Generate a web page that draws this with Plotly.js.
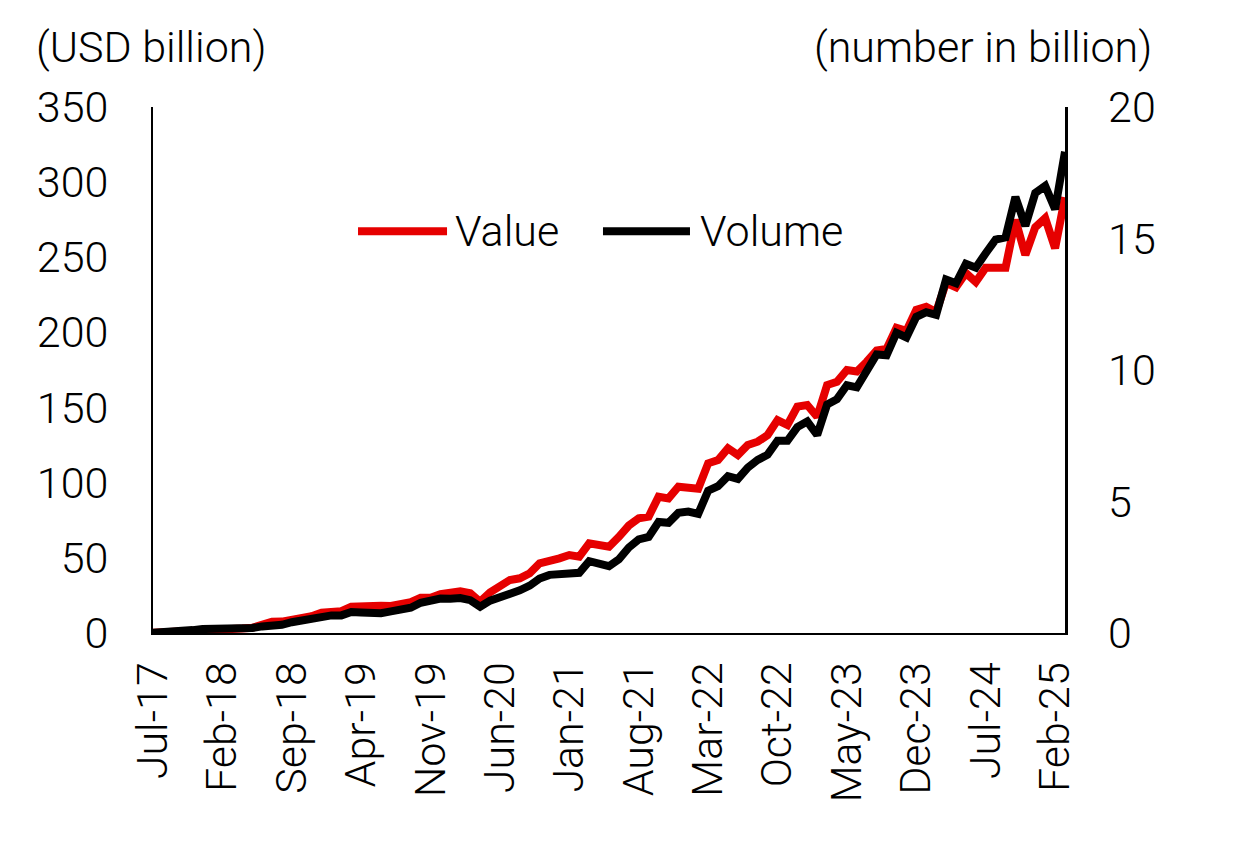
<!DOCTYPE html>
<html>
<head>
<meta charset="utf-8">
<script src="https://cdn.plot.ly/plotly-3.0.1.min.js"></script>
<style>
  html, body { margin: 0; padding: 0; background: #ffffff; }
  #chart { width: 1234px; height: 843px; }
</style>
</head>
<body>
<div id="chart"></div>
<script>
// Months (categories)
const months = [
  "Jul-17","Aug-17","Sep-17","Oct-17","Nov-17","Dec-17",
  "Jan-18","Feb-18","Mar-18","Apr-18","May-18","Jun-18","Jul-18","Aug-18","Sep-18","Oct-18","Nov-18","Dec-18",
  "Jan-19","Feb-19","Mar-19","Apr-19","May-19","Jun-19","Jul-19","Aug-19","Sep-19","Oct-19","Nov-19","Dec-19",
  "Jan-20","Feb-20","Mar-20","Apr-20","May-20","Jun-20","Jul-20","Aug-20","Sep-20","Oct-20","Nov-20","Dec-20",
  "Jan-21","Feb-21","Mar-21","Apr-21","May-21","Jun-21","Jul-21","Aug-21","Sep-21","Oct-21","Nov-21","Dec-21",
  "Jan-22","Feb-22","Mar-22","Apr-22","May-22","Jun-22","Jul-22","Aug-22","Sep-22","Oct-22","Nov-22","Dec-22",
  "Jan-23","Feb-23","Mar-23","Apr-23","May-23","Jun-23","Jul-23","Aug-23","Sep-23","Oct-23","Nov-23","Dec-23",
  "Jan-24","Feb-24","Mar-24","Apr-24","May-24","Jun-24","Jul-24","Aug-24","Sep-24","Oct-24","Nov-24","Dec-24",
  "Jan-25","Feb-25","Mar-25"
];

// Value (USD billion), left axis
const valueUSD = [
  0.1, 0.3, 0.5, 0.8, 1.1, 1.5,
  1.8, 2.2, 2.7, 3.0, 3.5, 5.5, 7.5, 7.6, 8.5, 10.3, 11.2, 13.5,
  14.5, 14.5, 17.5, 18.0, 18.8, 18.2, 18.0, 19.2, 20.5, 23.4, 23.5, 25.8,
  27.0, 27.8, 26.4, 20.8, 27.0, 30.8, 35.3, 36.4, 39.7, 46.4, 47.4, 49.7,
  51.9, 50.8, 59.7, 58.5, 57.4, 64.0, 71.5, 76.3, 77.4, 90.7, 89.6, 97.3,
  97.3, 96.0, 112.9, 115.1, 122.9, 118.4, 125.1, 127.3, 131.7, 141.7, 138.4, 150.6,
  151.7, 143.9, 165.0, 167.2, 175.0, 174.0, 180.5, 188.0, 189.0, 203.0, 201.0, 215.0,
  217.0, 213.6, 233.0, 230.0, 239.5, 233.5, 243.0, 243.0, 243.0, 275.0, 251.5, 270.0,
  276.0, 256.0, 290.0
];

// Volume (number in billion), right axis
const volumeBn = [
  0.01, 0.02, 0.03, 0.08, 0.11, 0.15,
  0.15, 0.17, 0.18, 0.19, 0.19, 0.25, 0.27, 0.31, 0.41, 0.48, 0.52, 0.62,
  0.67, 0.67, 0.80, 0.78, 0.73, 0.75, 0.82, 0.92, 0.96, 1.15, 1.22, 1.31,
  1.30, 1.33, 1.25, 1.00, 1.23, 1.34, 1.50, 1.62, 1.80, 2.07, 2.21, 2.23,
  2.30, 2.29, 2.73, 2.64, 2.54, 2.80, 3.25, 3.56, 3.65, 4.22, 4.19, 4.57,
  4.62, 4.53, 5.41, 5.58, 5.96, 5.86, 6.29, 6.58, 6.78, 7.31, 7.31, 7.83,
  8.04, 7.53, 8.69, 8.89, 9.42, 9.34, 9.96, 10.59, 10.56, 11.41, 11.24, 12.02,
  12.20, 12.10, 13.44, 13.30, 14.04, 13.89, 14.44, 14.96, 15.04, 16.58, 15.48, 16.73,
  17.00, 16.11, 18.30
];

// Tick labels shown on the x axis
const xTickLabels = ["Jul-17","Feb-18","Sep-18","Apr-19","Nov-19","Jun-20","Jan-21",
                     "Aug-21","Mar-22","Oct-22","May-23","Dec-23","Jul-24","Feb-25"];
const leftTicks = [0, 50, 100, 150, 200, 250, 300, 350];
const rightTicks = [0, 5, 10, 15, 20];

const seriesNames = ["Value", "Volume"];
const leftTitle = "(USD billion)";
const rightTitle = "(number in billion)";

const RED = "#E60000";
const BLACK = "#000000";
const FONT = "Roboto, Liberation Sans, Arial, sans-serif";
const FS = 43;
const FW = 300;
const txtFont = { family: FONT, size: FS, color: "#000000", weight: FW };

const traces = [
  {
    x: months, y: valueUSD, name: seriesNames[0], type: "scatter", mode: "lines",
    line: { color: RED, width: 8 }, yaxis: "y", showlegend: false, hoverinfo: "skip"
  },
  {
    x: months, y: volumeBn, name: seriesNames[1], type: "scatter", mode: "lines",
    line: { color: BLACK, width: 8 }, yaxis: "y2", showlegend: false, hoverinfo: "skip"
  }
];

const layout = {
  width: 1234, height: 843,
  margin: { l: 153, r: 169, t: 107, b: 210, pad: 0 },
  paper_bgcolor: "#ffffff", plot_bgcolor: "#ffffff",
  font: txtFont,
  showlegend: false,
  xaxis: {
    type: "category", categoryorder: "array", categoryarray: months,
    range: [0, months.length - 1],
    tickmode: "array", tickvals: xTickLabels, ticktext: xTickLabels,
    tickangle: -90, ticks: "", showgrid: false, zeroline: false,
    showline: true, linecolor: BLACK, linewidth: 2,
    tickfont: txtFont,
    ticklabelstandoff: 10, fixedrange: true
  },
  yaxis: {
    range: [0, 350], tickmode: "array", tickvals: leftTicks, ticktext: leftTicks.map(String),
    ticks: "", showgrid: false, zeroline: false,
    showline: true, linecolor: BLACK, linewidth: 2,
    tickfont: txtFont,
    ticklabelstandoff: 34, fixedrange: true
  },
  yaxis2: {
    overlaying: "y", side: "right",
    range: [0, 20], tickmode: "array", tickvals: rightTicks, ticktext: rightTicks.map(String),
    ticks: "", showgrid: false, zeroline: false,
    showline: true, linecolor: BLACK, linewidth: 2.5,
    tickfont: txtFont,
    ticklabelstandoff: 32, fixedrange: true
  },
  shapes: [
    { type: "line", xref: "paper", yref: "paper", x0: 0.2248, x1: 0.3224, y0: 0.764, y1: 0.764,
      line: { color: RED, width: 8 } },
    { type: "line", xref: "paper", yref: "paper", x0: 0.4934, x1: 0.5888, y0: 0.764, y1: 0.764,
      line: { color: BLACK, width: 8 } }
  ],
  annotations: [
    { text: leftTitle, xref: "paper", yref: "paper", x: -0.131, y: 1.114,
      xanchor: "left", yanchor: "middle", showarrow: false, font: txtFont },
    { text: rightTitle, xref: "paper", yref: "paper", x: 1.098, y: 1.114,
      xanchor: "right", yanchor: "middle", showarrow: false, font: txtFont },
    { text: seriesNames[0], xref: "paper", yref: "paper", x: 0.329, y: 0.764,
      xanchor: "left", yanchor: "middle", showarrow: false, font: txtFont },
    { text: seriesNames[1], xref: "paper", yref: "paper", x: 0.598, y: 0.764,
      xanchor: "left", yanchor: "middle", showarrow: false, font: txtFont }
  ]
};

Plotly.newPlot("chart", traces, layout, { displayModeBar: false, staticPlot: true });
</script>
</body>
</html>
